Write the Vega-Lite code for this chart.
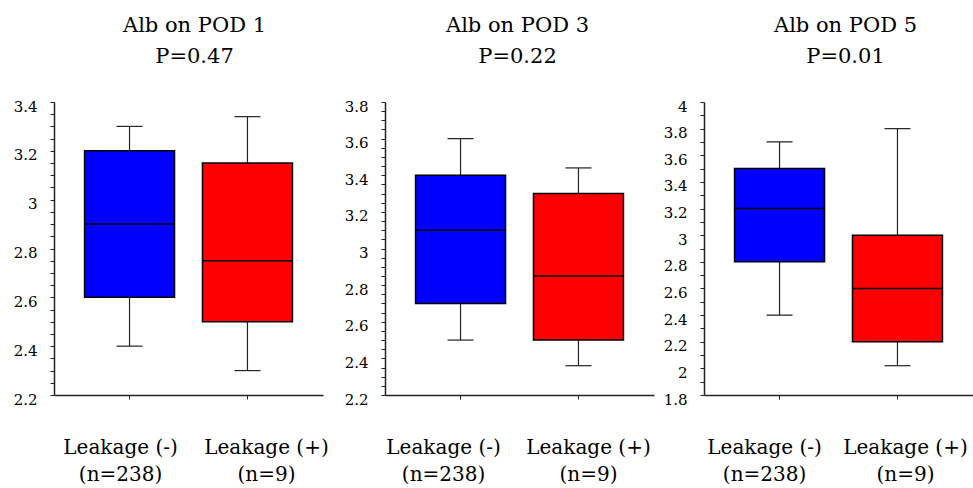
{
  "$schema": "https://vega.github.io/schema/vega-lite/v6.json",
  "autosize": {"type": "pad"},
  "padding": {"left": 13, "top": 15, "right": 0, "bottom": 0},
  "background": "white",
  "data": {
    "values": [
      {"pod": 1, "group": "Leakage (-)|(n=238)", "min": 2.4, "q1": 2.6, "median": 2.9, "q3": 3.2, "max": 3.3},
      {"pod": 1, "group": "Leakage (+)|(n=9)", "min": 2.3, "q1": 2.5, "median": 2.75, "q3": 3.15, "max": 3.34},
      {"pod": 3, "group": "Leakage (-)|(n=238)", "min": 2.5, "q1": 2.7, "median": 3.1, "q3": 3.4, "max": 3.6},
      {"pod": 3, "group": "Leakage (+)|(n=9)", "min": 2.36, "q1": 2.5, "median": 2.85, "q3": 3.3, "max": 3.44},
      {"pod": 5, "group": "Leakage (-)|(n=238)", "min": 2.4, "q1": 2.8, "median": 3.2, "q3": 3.5, "max": 3.7},
      {"pod": 5, "group": "Leakage (+)|(n=9)", "min": 2.02, "q1": 2.2, "median": 2.6, "q3": 3.0, "max": 3.8}
    ]
  },
  "bounds": "flush",
  "spacing": 62,
  "hconcat": [
    {
      "width": 269, "height": 293,
      "title": {"text": ["Alb on POD 1", "P=0.47"], "dx": 6},
      "transform": [{"filter": "datum.pod == 1"}],
      "encoding": {
        "x": {"field": "group", "type": "nominal", "sort": null, "scale": {"paddingInner": 0.237, "paddingOuter": 0.259},
          "axis": {"title": null, "labelOffset": {"condition": {"test": "indexof(datum.value, '(-)') >= 0", "value": -9}, "value": 19}}}
      },
      "resolve": {"axis": {"y": "independent"}},
      "layer": [
        {"mark": {"type": "rule", "color": "#222", "strokeWidth": 1.2},
         "encoding": {"y": {"field": "min", "type": "quantitative", "scale": {"domain": [2.2, 3.4], "nice": false, "zero": false},
           "axis": {"title": null, "orient": "left", "values": [2.2,2.4,2.6,2.8,3.0,3.2,3.4], "labelExpr": "format(datum.value, '.1~f')"}},
           "y2": {"field": "max"}}},
        {"mark": {"type": "bar", "stroke": "black", "strokeWidth": 1.5, "opacity": 1},
         "encoding": {"y": {"field": "q1", "type": "quantitative",
           "axis": {"title": null, "orient": "left", "labels": false, "domain": false, "values": [2.25,2.3,2.35,2.45,2.5,2.55,2.65,2.7,2.75,2.85,2.9,2.95,3.05,3.1,3.15,3.25,3.3,3.35]}},
           "y2": {"field": "q3"},
           "color": {"field": "group", "type": "nominal", "sort": null, "scale": {"range": ["#0000ff", "#ff0000"]}, "legend": null}}},
        {"mark": {"type": "tick", "color": "black", "size": 90, "thickness": 1.5, "opacity": 1},
         "encoding": {"y": {"field": "median", "type": "quantitative", "axis": null}}},
        {"mark": {"type": "tick", "color": "#222", "size": 26, "thickness": 1.2, "opacity": 1},
         "encoding": {"y": {"field": "min", "type": "quantitative", "axis": null}}},
        {"mark": {"type": "tick", "color": "#222", "size": 26, "thickness": 1.2, "opacity": 1},
         "encoding": {"y": {"field": "max", "type": "quantitative", "axis": null}}}
      ]
    },
    {
      "bounds": "flush",
      "spacing": 50,
      "hconcat": [
        {
          "width": 269, "height": 293,
          "title": {"text": ["Alb on POD 3", "P=0.22"], "dx": -2},
          "transform": [{"filter": "datum.pod == 3"}],
          "encoding": {
            "x": {"field": "group", "type": "nominal", "sort": null, "scale": {"paddingInner": 0.237, "paddingOuter": 0.259},
              "axis": {"title": null, "labelOffset": {"condition": {"test": "indexof(datum.value, '(-)') >= 0", "value": -17}, "value": 10}}}
          },
          "resolve": {"axis": {"y": "independent"}},
          "layer": [
            {"mark": {"type": "rule", "color": "#222", "strokeWidth": 1.2},
             "encoding": {"y": {"field": "min", "type": "quantitative", "scale": {"domain": [2.2, 3.8], "nice": false, "zero": false},
               "axis": {"title": null, "orient": "left", "values": [2.2,2.4,2.6,2.8,3.0,3.2,3.4,3.6,3.8], "labelExpr": "format(datum.value, '.1~f')"}},
               "y2": {"field": "max"}}},
            {"mark": {"type": "bar", "stroke": "black", "strokeWidth": 1.5, "opacity": 1},
             "encoding": {"y": {"field": "q1", "type": "quantitative",
               "axis": {"title": null, "orient": "left", "labels": false, "domain": false, "values": [2.25,2.3,2.35,2.45,2.5,2.55,2.65,2.7,2.75,2.85,2.9,2.95,3.05,3.1,3.15,3.25,3.3,3.35,3.45,3.5,3.55,3.65,3.7,3.75]}},
               "y2": {"field": "q3"},
               "color": {"field": "group", "type": "nominal", "sort": null, "scale": {"range": ["#0000ff", "#ff0000"]}, "legend": null}}},
            {"mark": {"type": "tick", "color": "black", "size": 90, "thickness": 1.5, "opacity": 1},
             "encoding": {"y": {"field": "median", "type": "quantitative", "axis": null}}},
            {"mark": {"type": "tick", "color": "#222", "size": 26, "thickness": 1.2, "opacity": 1},
             "encoding": {"y": {"field": "min", "type": "quantitative", "axis": null}}},
            {"mark": {"type": "tick", "color": "#222", "size": 26, "thickness": 1.2, "opacity": 1},
             "encoding": {"y": {"field": "max", "type": "quantitative", "axis": null}}}
          ]
        },
        {
          "width": 269, "height": 293,
          "title": {"text": ["Alb on POD 5", "P=0.01"], "dx": 7},
          "transform": [{"filter": "datum.pod == 5"}],
          "encoding": {
            "x": {"field": "group", "type": "nominal", "sort": null, "scale": {"paddingInner": 0.237, "paddingOuter": 0.259},
              "axis": {"title": null, "labelOffset": {"condition": {"test": "indexof(datum.value, '(-)') >= 0", "value": -15}, "value": 8}}}
          },
          "resolve": {"axis": {"y": "independent"}},
          "layer": [
            {"mark": {"type": "rule", "color": "#222", "strokeWidth": 1.2},
             "encoding": {"y": {"field": "min", "type": "quantitative", "scale": {"domain": [1.8, 4.0], "nice": false, "zero": false},
               "axis": {"title": null, "orient": "left", "values": [1.8,2.0,2.2,2.4,2.6,2.8,3.0,3.2,3.4,3.6,3.8,4.0], "labelExpr": "format(datum.value, '.1~f')"}},
               "y2": {"field": "max"}}},
            {"mark": {"type": "bar", "stroke": "black", "strokeWidth": 1.5, "opacity": 1},
             "encoding": {"y": {"field": "q1", "type": "quantitative",
               "axis": {"title": null, "orient": "left", "labels": false, "domain": false, "values": [1.9,2.1,2.3,2.5,2.7,2.9,3.1,3.3,3.5,3.7,3.9]}},
               "y2": {"field": "q3"},
               "color": {"field": "group", "type": "nominal", "sort": null, "scale": {"range": ["#0000ff", "#ff0000"]}, "legend": null}}},
            {"mark": {"type": "tick", "color": "black", "size": 90, "thickness": 1.5, "opacity": 1},
             "encoding": {"y": {"field": "median", "type": "quantitative", "axis": null}}},
            {"mark": {"type": "tick", "color": "#222", "size": 26, "thickness": 1.2, "opacity": 1},
             "encoding": {"y": {"field": "min", "type": "quantitative", "axis": null}}},
            {"mark": {"type": "tick", "color": "#222", "size": 26, "thickness": 1.2, "opacity": 1},
             "encoding": {"y": {"field": "max", "type": "quantitative", "axis": null}}}
          ]
        }
      ]
    }
  ],
  "config": {
    "font": "DejaVu Serif",
    "view": {"stroke": null},
    "title": {"font": "DejaVu Serif", "fontSize": 21, "fontWeight": "normal", "color": "black", "lineHeight": 31, "offset": 32, "anchor": "middle"},
    "axis": {"labelFont": "DejaVu Serif", "labelColor": "black", "domainColor": "#222", "domainWidth": 1.5, "tickColor": "#222", "tickWidth": 1, "grid": false, "tickSize": 4},
    "axisX": {"labelFontSize": 20, "labelPadding": 38, "labelAngle": 0, "labelLineHeight": 27, "labelExpr": "split(datum.label, '|')", "labelOverlap": false, "labelBound": false, "labelLimit": 300},
    "axisY": {"labelFontSize": 15, "labelPadding": 13, "labelOffset": 4, "labelOverlap": false, "labelBound": false}
  }
}
